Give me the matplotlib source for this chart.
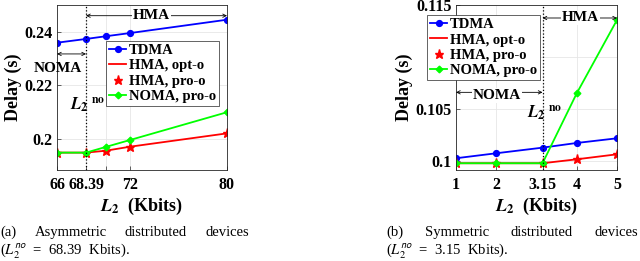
import matplotlib
matplotlib.use("Agg")
import matplotlib.pyplot as plt

plt.rcParams['font.family'] = ['Liberation Serif', 'DejaVu Serif']
plt.rcParams['mathtext.fontset'] = 'stix'

# (a) asymmetric distributed devices
a_x = [66, 68.39, 70, 72, 80]
a_tdma = [0.2360, 0.2374, 0.2384, 0.2396, 0.2446]
a_hma_opt = [0.1949, 0.1949, 0.1956, 0.1971, 0.2021]
a_hma_pro = [0.1949, 0.1949, 0.1956, 0.1971, 0.2021]
a_noma_pro = [0.1949, 0.1949, 0.1970, 0.1996, 0.2100]
a_xticks = [66, 68.39, 70, 72, 80]
a_xticklabels = ['66', '68.39', '', '72', '80']
a_yticks = [0.2, 0.22, 0.24]
a_yticklabels = ['0.2', '0.22', '0.24']
a_lno = 68.39

# (b) symmetric distributed devices
b_x = [1, 2, 3.15, 4, 5]
b_tdma = [0.10026, 0.10074, 0.10128, 0.10173, 0.10218]
b_hma_opt = [0.09978, 0.09978, 0.09978, 0.10016, 0.10064]
b_hma_pro = [0.09978, 0.09978, 0.09978, 0.10016, 0.10064]
b_noma_pro = [0.09978, 0.09978, 0.09978, 0.10651, 0.11356]
b_xticks = [1, 2, 3.15, 4, 5]
b_xticklabels = ['1', '2', '3.15', '4', '5']
b_yticks = [0.1, 0.105, 0.11, 0.115]
b_yticklabels = ['0.1', '0.105', '', '0.115']
b_lno = 3.15

legend_labels = ['TDMA', 'HMA, opt-o', 'HMA, pro-o', 'NOMA, pro-o']
cap_a = ['(a)', 'Asymmetric', 'distributed', 'devices']
cap_b = ['(b)', 'Symmetric', 'distributed', 'devices']

W, H = 640, 261
fig = plt.figure(figsize=(W / 100, H / 100), dpi=100)


def px_axes(x0, x1, y0, y1):
    # pixel box (top-left origin) -> figure fraction
    return fig.add_axes([x0 / W, 1 - y1 / H, (x1 - x0) / W, (y1 - y0) / H])


def draw_panel(ax, x, tdma, hma_opt, hma_pro, noma_pro):
    ax.plot(x, tdma, '-o', color='blue', lw=1.3, ms=4.2, label=legend_labels[0])
    ax.plot(x, hma_opt, '-', color='red', lw=1.3, label=legend_labels[1])
    ax.plot(x, hma_pro, '*', color='red', ms=6.5, label=legend_labels[2])
    ax.plot(x, noma_pro, '-D', color='#00ff00', lw=1.3, ms=3.4, label=legend_labels[3])


def style_axes(ax, xticks, xticklabels, yticks, yticklabels):
    ax.set_xticks(xticks)
    ax.set_xticklabels(xticklabels, fontweight='bold', fontsize=11.5)
    ax.set_yticks(yticks)
    ax.set_yticklabels(yticklabels, fontweight='bold', fontsize=11.5)
    ax.tick_params(direction='in', length=3, width=0.5, colors='#262626',
                   labelcolor='black')
    ax.tick_params(axis='x', pad=5)
    ax.tick_params(axis='y', pad=3)
    ax.grid(True, color='#e6e6e6', lw=0.6)
    for s in ax.spines.values():
        s.set_color('#262626')
        s.set_linewidth(0.6)
    ax.set_xlabel(r'$\mathbfit{L}_{\mathbf{2}}$  (Kbits)', fontweight='bold',
                  fontsize=13, labelpad=2)
    ax.set_ylabel('Delay (s)', fontweight='bold', fontsize=13, labelpad=2)


def dbl_arrow(ax, x0, x1, y):
    ax.annotate('', xy=(x0, y), xytext=(x1, y),
                arrowprops=dict(arrowstyle='<->', lw=0.6, color='black',
                                shrinkA=0, shrinkB=0, mutation_scale=6))


def justified_line(words, x0, x1, y, **kw):
    # spread the words so the line runs from x0 to x1 (pixels)
    texts = [fig.text(0, y, w, **kw) for w in words]
    r = fig.canvas.get_renderer()
    widths = [t.get_window_extent(r).width for t in texts]
    gap = (x1 - x0 - sum(widths)) / (len(words) - 1)
    x = x0
    for t, w in zip(texts, widths):
        t.set_x(x / W)
        x += w + gap


txt_kw = dict(fontweight='bold', fontsize=11, ha='center', va='center',
              bbox=dict(facecolor='white', edgecolor='none', pad=0.5))
lno_label = r'$\mathbfit{L}_{\mathbf{2}}\;{}^{\mathbf{no}}$'

# panel (a)
ax1 = px_axes(57, 227, 5, 170)
draw_panel(ax1, a_x, a_tdma, a_hma_opt, a_hma_pro, a_noma_pro)
ax1.set_xlim(66, 80)
ax1.set_ylim(0.1884, 0.2501)
style_axes(ax1, a_xticks, a_xticklabels, a_yticks, a_yticklabels)
ax1.axvline(a_lno, color='black', ls=':', lw=0.9)
dbl_arrow(ax1, a_lno, 80, 0.2461)
ax1.text(73.8, 0.2461, 'HMA', **txt_kw)
dbl_arrow(ax1, 66, a_lno, 0.2318)
ax1.text(66.1, 0.2265, 'NOMA', fontweight='bold', fontsize=11,
         ha='center', va='center')
ax1.text(a_lno + 0.1, 0.2125, lno_label, fontsize=12, ha='center', va='center')
leg1 = ax1.legend(loc='upper left', bbox_to_anchor=(0.288, 0.782),
                  borderaxespad=0, prop=dict(weight='bold', size=10.5),
                  handlelength=1.2, handletextpad=0.15, labelspacing=0.15,
                  borderpad=0.2, fancybox=False, framealpha=1,
                  edgecolor='#262626')
leg1.get_frame().set_linewidth(0.5)

# panel (b)
ax2 = px_axes(456, 617, 5, 170)
draw_panel(ax2, b_x, b_tdma, b_hma_opt, b_hma_pro, b_noma_pro)
ax2.set_xlim(1, 5)
ax2.set_ylim(0.09913, 0.115)
style_axes(ax2, b_xticks, b_xticklabels, b_yticks, b_yticklabels)
ax2.axvline(b_lno, color='black', ls=':', lw=0.9)
dbl_arrow(ax2, b_lno, 5, 0.11375)
ax2.text(4.1, 0.11375, 'HMA', **txt_kw)
dbl_arrow(ax2, 1, b_lno, 0.1066)
ax2.text(2.02, 0.1063, 'NOMA', **txt_kw)
ax2.text(b_lno + 0.05, 0.1046, lno_label, fontsize=12, ha='center', va='center')
leg2 = ax2.legend(loc='upper left', bbox_to_anchor=(-0.18, 0.939),
                  borderaxespad=0, prop=dict(weight='bold', size=10.5),
                  handlelength=1.2, handletextpad=0.15, labelspacing=0.15,
                  borderpad=0.2, fancybox=False, framealpha=1,
                  edgecolor='#262626')
leg2.get_frame().set_linewidth(0.5)

# captions
cap_kw = dict(fontsize=10.5, va='baseline')
y1 = 1 - 236 / H
y2 = 1 - 255 / H
justified_line(cap_a, 0, 249, y1, **cap_kw)
fig.text(0 / W, y2, r'($L_2^{\mathsf{no}}$  =  68.39  Kbits).', **cap_kw)
justified_line(cap_b, 386, 638, y1, **cap_kw)
fig.text(386 / W, y2, r'($L_2^{\mathsf{no}}$  =  3.15  Kbits).', **cap_kw)

fig.savefig('out.png', dpi=100)
